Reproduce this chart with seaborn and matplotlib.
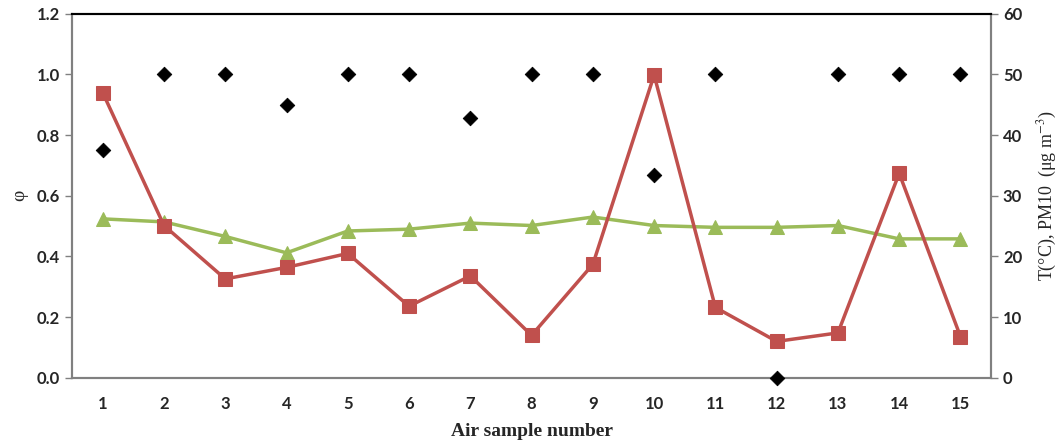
import numpy as np
import pandas as pd
import matplotlib
matplotlib.use('Agg')
import matplotlib.pyplot as plt
from matplotlib.ticker import FixedLocator
import seaborn as sns

samples = list(range(1, 16))
phi = [0.75, 1.0, 1.0, 0.9, 1.0, 1.0, 0.857, 1.0, 1.0, 0.667, 1.0, 0.0, 1.0, 1.0, 1.0]
pm10 = [47.0, 25.1, 16.3, 18.2, 20.5, 11.8, 16.8, 7.0, 18.7, 49.9, 11.6, 6.0, 7.4, 33.7, 6.8]
temp = [26.2, 25.7, 23.3, 20.6, 24.2, 24.5, 25.5, 25.1, 26.5, 25.1, 24.8, 24.8, 25.1, 22.9, 22.9]
phi_ticks = [0.0, 0.2, 0.4, 0.6, 0.8, 1.0, 1.2]
right_ticks = [0, 10, 20, 30, 40, 50, 60]

df = pd.DataFrame({'sample': samples, 'phi': phi, 'pm10': pm10, 'temp': temp})

sns.set_style('white')
plt.rcParams['font.family'] = ['Lato', 'DejaVu Sans']
plt.rcParams['mathtext.fontset'] = 'stix'
serif = ['Liberation Serif', 'DejaVu Serif']

fig, ax = plt.subplots(figsize=(10.6, 4.45), dpi=100)
fig.subplots_adjust(left=0.068, right=0.935, top=0.969, bottom=0.151)
ax2 = ax.twinx()

# phi on left axis
sns.scatterplot(data=df, x='sample', y='phi', ax=ax, marker='D', color='black',
                s=55, edgecolor='black', zorder=5, clip_on=False)
# T and PM10 on right axis
sns.lineplot(data=df, x='sample', y='temp', ax=ax2, color='#9BBB59', marker='^',
             markersize=10, markeredgecolor='#9BBB59', linewidth=2.5)
sns.lineplot(data=df, x='sample', y='pm10', ax=ax2, color='#C0504D', marker='s',
             markersize=10, markeredgecolor='#C0504D', linewidth=2.5)
ax.set_zorder(ax2.get_zorder() + 1)
ax.patch.set_visible(False)

ax.set_yticks(phi_ticks)
ax.set_yticklabels(['{:.1f}'.format(v) for v in phi_ticks])
ax2.set_yticks(right_ticks)
ax.set_xlim(0.5, 15.5)
ax.set_ylim(0, 1.2)
ax2.set_ylim(0, 60)

ax.xaxis.set_major_locator(FixedLocator(samples))
ax.xaxis.set_minor_locator(FixedLocator(np.arange(0.5, 16, 1)))
ax.tick_params(axis='x', which='major', length=0, pad=13, labelsize=12)
ax.tick_params(axis='x', which='minor', length=5, width=1, color='#808080', direction='out')
ax.tick_params(axis='y', length=5, width=1, color='#808080', direction='out', labelsize=12)
ax2.tick_params(axis='y', length=5, width=1, color='#808080', direction='out', labelsize=12)
for lab in ax.get_xticklabels() + ax.get_yticklabels() + ax2.get_yticklabels():
    lab.set_fontweight('bold')

for a in (ax, ax2):
    for side in ['left', 'bottom', 'right']:
        a.spines[side].set_color('#808080')
        a.spines[side].set_linewidth(1.5)
    a.spines['top'].set_color('black')
    a.spines['top'].set_linewidth(1.5)

ax.set_xlabel('Air sample number', family=serif, fontsize=14, fontweight='bold', labelpad=8)
ax.set_ylabel('φ', family=serif, fontsize=14, labelpad=6)
ax2.set_ylabel('T(°C), PM10  (μg m$^{-3}$)', family=serif, fontsize=13, labelpad=10)

fig.savefig('out.png', dpi=100)
